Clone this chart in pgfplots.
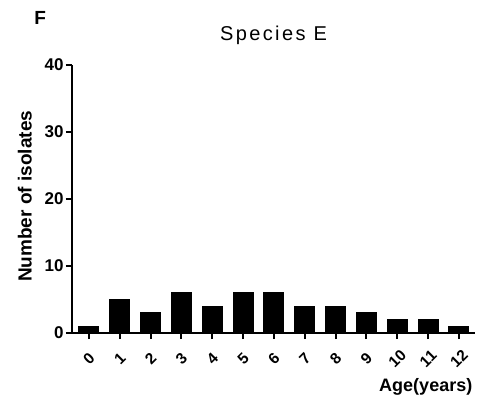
\documentclass[border=0pt]{standalone}
\usepackage{pgfplots}
\pgfplotsset{compat=1.18}
\usepackage{fontspec}
\setmainfont{Liberation Sans}

\begin{document}
\begin{tikzpicture}
\useasboundingbox (0,0) rectangle (492bp,405bp);
\begin{axis}[
  at={(72bp,72bp)}, anchor=south west,
  scale only axis,
  width=403bp, height=268bp,
  xmin=-0.55, xmax=12.52,
  ymin=0, ymax=40,
  axis lines*=left,
  axis line style={line width=2bp},
  x axis line style={shorten <=-4bp},
  every tick/.style={line width=2bp, black},
  tick align=outside,
  major tick length=6bp,
  xtick={0,...,12},
  ytick={0,10,20,30,40},
  /pgf/number format/assume math mode=true,
  tick label style={font=\fontsize{17bp}{20bp}\selectfont\bfseries},
  % shifts are taken in the rotated frame: equal x and y shifts point straight down
  x tick label style={font=\fontsize{15.5bp}{18bp}\selectfont\bfseries,
    inner sep=0pt, rotate=45, anchor=center, xshift=-14bp, yshift=-14bp},
  y tick label style={xshift=1bp},
  ybar, bar width=20bp,
  clip=false,
]
\addplot[fill=black, draw=black, line width=0pt] coordinates {
  (0,1) (1,5) (2,3) (3,6) (4,4) (5,6) (6,6)
  (7,4) (8,4) (9,3) (10,2) (11,2) (12,1)
};
\node[font=\fontsize{20bp}{24bp}\selectfont\addfontfeatures{LetterSpace=12}]
  at (axis description cs:0.5,1.112) {Species E};
\node[font=\fontsize{19bp}{22bp}\selectfont\bfseries]
  at (axis description cs:-0.079,1.175) {F};
\node[font=\fontsize{19bp}{22bp}\selectfont\bfseries, rotate=90]
  at (axis description cs:-0.117,0.51) {Number of isolates};
\node[font=\fontsize{18bp}{21bp}\selectfont\bfseries, anchor=east]
  at (axis description cs:1.002,-0.2) {Age(years)};
\end{axis}
\end{tikzpicture}
\end{document}
